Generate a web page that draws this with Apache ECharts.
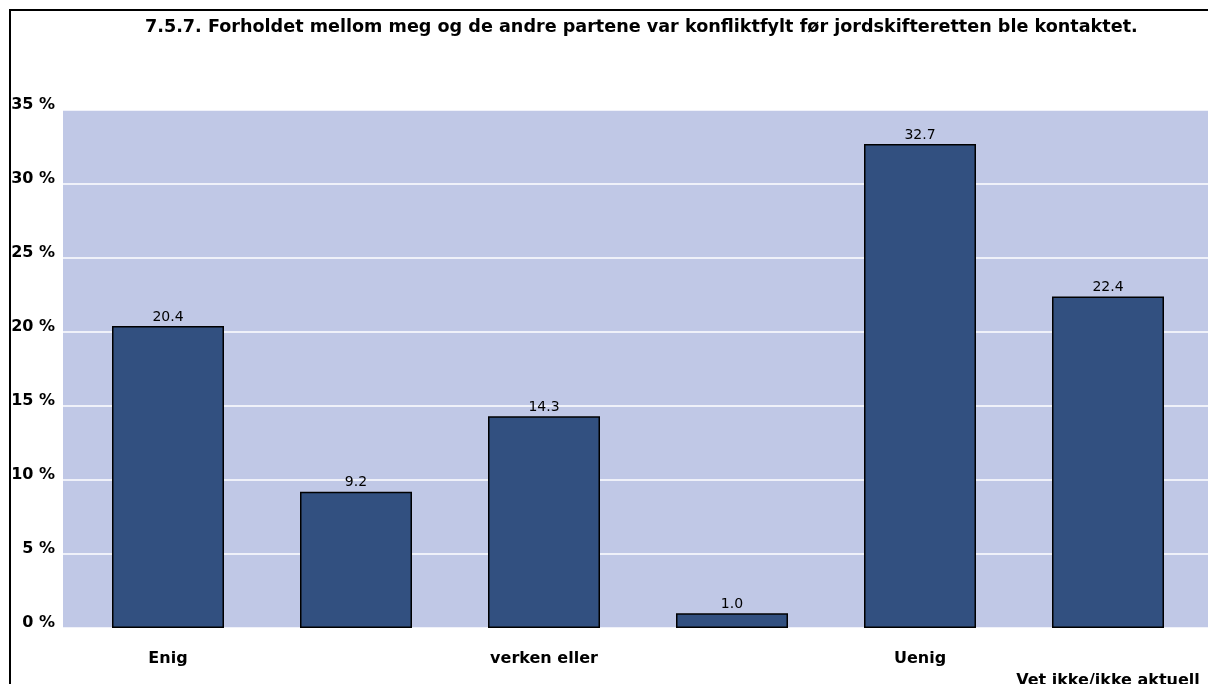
<!DOCTYPE html>
<html>
<head>
<meta charset="utf-8">
<script src="https://cdn.jsdelivr.net/npm/echarts@6/dist/echarts.min.js"></script>
<style>html,body{margin:0;padding:0;background:#fff;}#c{width:1208px;height:684px;}</style>
</head>
<body>
<div id="c"></div>
<script>
const titleText = '7.5.7. Forholdet mellom meg og de andre partene var konfliktfylt før jordskifteretten ble kontaktet.';
const categories = ['Enig', '', 'verken eller', '', 'Uenig', 'Vet ikke/ikke aktuell'];
const values = [20.4, 9.2, 14.3, 1.0, 32.7, 22.4];
const yTicks = [0, 5, 10, 15, 20, 25, 30, 35];

const chart = echarts.init(document.getElementById('c'), null, {renderer: 'canvas'});
const font = 'DejaVu Sans, Verdana, sans-serif';
chart.setOption({
  animation: false,
  backgroundColor: '#fff',
  title: {
    text: titleText,
    left: 140, top: 13,
    textStyle: {fontFamily: font, fontSize: 17.6, fontWeight: 'bold', color: '#000'}
  },
  graphic: [{
    type: 'rect', z: 100,
    shape: {x: 10, y: 10, width: 1400, height: 900},
    style: {fill: 'none', stroke: '#000', lineWidth: 2}
  }],
  grid: [
    {left: 63, right: 0, top: 110, bottom: 56, show: true, backgroundColor: '#c0c8e6', borderWidth: 0, outerBoundsMode: 'none', containLabel: false},
    {left: 74, right: 6, top: 110, bottom: 56, outerBoundsMode: 'none', containLabel: false}
  ],
  xAxis: [
    {gridIndex: 0, type: 'category', data: categories, show: false},
    {gridIndex: 1, type: 'category', data: categories,
     axisLine: {show: false}, axisTick: {show: false},
     axisLabel: {interval: 0, margin: 20, fontFamily: font, fontSize: 16, fontWeight: 'bold', color: '#000',
       lineHeight: 22,
       formatter: function (v, i) { return i === 5 ? '\n' + v : v; }}}
  ],
  yAxis: [
    {gridIndex: 0, type: 'value', min: 0, max: 35, interval: 5,
     axisLine: {show: false}, axisTick: {show: false},
     splitLine: {lineStyle: {color: '#ffffff', width: 1.5}},
     axisLabel: {margin: 8, fontFamily: font, fontSize: 16, fontWeight: 'bold', color: '#000',
       verticalAlign: 'bottom', lineHeight: 10,
       formatter: function (v) { return yTicks.indexOf(v) >= 0 ? v + ' %' : ''; }}},
    {gridIndex: 1, type: 'value', min: 0, max: 35, interval: 5, show: false, splitLine: {show: false}}
  ],
  series: [{
    type: 'bar', xAxisIndex: 1, yAxisIndex: 1,
    data: values,
    barWidth: 112,
    itemStyle: {color: '#325080', borderColor: '#000', borderWidth: 1.5},
    label: {show: true, position: 'top', distance: 2, fontFamily: font, fontSize: 14, color: '#000',
      formatter: function (p) { return p.value.toFixed(1); }}
  }]
});
</script>
</body>
</html>
